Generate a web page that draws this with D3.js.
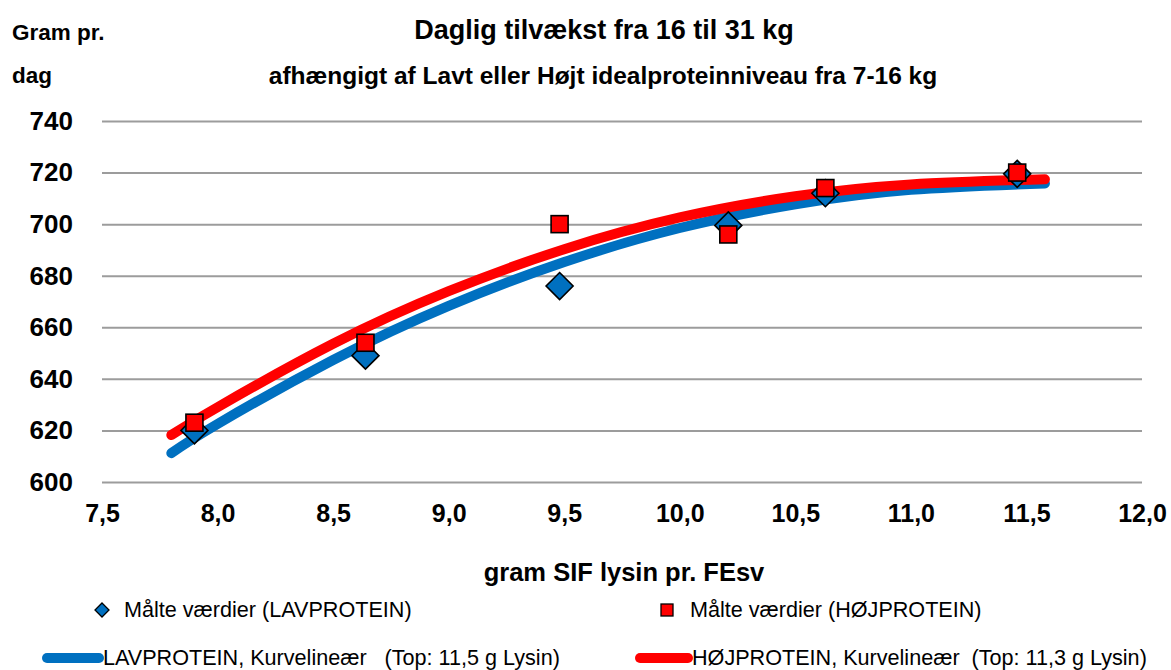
<!DOCTYPE html>
<html>
<head>
<meta charset="utf-8">
<script src="https://cdn.jsdelivr.net/npm/d3@7/dist/d3.min.js"></script>
<style>
  html, body { margin: 0; padding: 0; background: #fff; }
  svg { display: block; font-family: "Liberation Sans", Arial, sans-serif; }
  text { white-space: pre; }
</style>
</head>
<body>
<svg id="chart" width="1171" height="670"></svg>
<script>
// ---- Data ----
const lysinPoints = [7.9, 8.64, 9.48, 10.21, 10.63, 11.46];
const gainLav = [620, 649, 676, 699.5, 712, 719.5];
const gainHoj = [623, 654, 700, 696, 714, 720];

const curveX = [7.8, 8.0, 8.5, 9.0, 9.5, 10.0, 10.5, 11.0, 11.58];
const curveLav = [611.2, 622.5, 647.3, 668.3, 685.3, 698.5, 707.7, 713.3, 715.8];
const curveHoj = [618.2, 629.0, 653.6, 674.0, 690.3, 702.6, 710.8, 715.4, 717.4];

const xTicks = [7.5, 8.0, 8.5, 9.0, 9.5, 10.0, 10.5, 11.0, 11.5, 12.0];
const yTicks = [600, 620, 640, 660, 680, 700, 720, 740];

const titleText = "Daglig tilvækst fra 16 til 31 kg";
const subtitleText = "afhængigt af Lavt eller Højt idealproteinniveau fra 7-16 kg";
const yTitle1 = "Gram pr.";
const yTitle2 = "dag";
const xTitle = "gram SIF lysin pr. FEsv";
const legendLabels = [
  "Målte værdier (LAVPROTEIN)",
  "Målte værdier (HØJPROTEIN)",
  "LAVPROTEIN, Kurvelineær   (Top: 11,5 g Lysin)",
  "HØJPROTEIN, Kurvelineær  (Top: 11,3 g Lysin)"
];

const BLUE = "#0070C0", RED = "#FF0000";

// ---- Scales ----
const svg = d3.select("#chart");
const x = d3.scaleLinear().domain([7.5, 12.0]).range([102, 1142]);
const y = d3.scaleLinear().domain([600, 740]).range([482, 121]);
const fmt = v => d3.format(".1f")(v).replace(".", ",");

// Gridlines + y axis
const yAxis = d3.axisLeft(y).tickValues(yTicks).tickSize(-(x.range()[1] - x.range()[0])).tickPadding(29);
const gy = svg.append("g").attr("transform", `translate(${x.range()[0]},0)`).call(yAxis);
gy.select(".domain").remove();
gy.selectAll(".tick line").attr("stroke", "#9c9c9c").attr("stroke-width", 2);
gy.selectAll(".tick text").attr("font-size", 26).attr("font-weight", "bold")
  .attr("fill", "#000").attr("font-family", "Liberation Sans, Arial, sans-serif");

// x axis labels
const xAxis = d3.axisBottom(x).tickValues(xTicks).tickFormat(fmt).tickSize(0).tickPadding(22);
const gx = svg.append("g").attr("transform", `translate(0,${y.range()[0]})`).call(xAxis);
gx.select(".domain").remove();
gx.selectAll(".tick text").attr("font-size", 25).attr("font-weight", "bold")
  .attr("fill", "#000").attr("font-family", "Liberation Sans, Arial, sans-serif");

// Curves
const line = d3.line().x(d => x(d[0])).y(d => y(d[1])).curve(d3.curveNatural);
svg.append("path").datum(curveX.map((v, i) => [v, curveLav[i]]))
  .attr("d", line).attr("fill", "none").attr("stroke", BLUE).attr("stroke-width", 10).attr("stroke-linecap", "round");
svg.append("path").datum(curveX.map((v, i) => [v, curveHoj[i]]))
  .attr("d", line).attr("fill", "none").attr("stroke", RED).attr("stroke-width", 10).attr("stroke-linecap", "round");

// Markers
const diamond = (cx, cy, r) => `M${cx},${cy - r}L${cx + r},${cy}L${cx},${cy + r}L${cx - r},${cy}Z`;
svg.append("g").selectAll("path").data(lysinPoints.map((v, i) => [v, gainLav[i]])).join("path")
  .attr("d", d => diamond(x(d[0]), y(d[1]), 13.5))
  .attr("fill", BLUE).attr("stroke", "#000").attr("stroke-width", 1.6);
svg.append("g").selectAll("rect").data(lysinPoints.map((v, i) => [v, gainHoj[i]])).join("rect")
  .attr("x", d => x(d[0]) - 8.5).attr("y", d => y(d[1]) - 8.5)
  .attr("width", 17).attr("height", 17)
  .attr("fill", RED).attr("stroke", "#000").attr("stroke-width", 1.6);

// Titles
svg.append("text").attr("x", 604).attr("y", 39).attr("text-anchor", "middle")
  .attr("font-size", 27).attr("font-weight", "bold").text(titleText);
svg.append("text").attr("x", 603).attr("y", 84).attr("text-anchor", "middle")
  .attr("font-size", 24.5).attr("font-weight", "bold").text(subtitleText);
svg.append("text").attr("x", 12).attr("y", 40).attr("font-size", 22.5).attr("font-weight", "bold").text(yTitle1);
svg.append("text").attr("x", 12).attr("y", 83).attr("font-size", 22.5).attr("font-weight", "bold").text(yTitle2);
svg.append("text").attr("x", 624).attr("y", 581).attr("text-anchor", "middle")
  .attr("font-size", 25.5).attr("font-weight", "bold").text(xTitle);

// Legend
const lg = svg.append("g").attr("font-size", 21.6);
lg.append("path").attr("d", diamond(102, 610, 7)).attr("fill", BLUE).attr("stroke", "#000").attr("stroke-width", 1.3);
lg.append("text").attr("x", 124).attr("y", 617).text(legendLabels[0]);
lg.append("rect").attr("x", 661).attr("y", 604).attr("width", 12).attr("height", 12)
  .attr("fill", RED).attr("stroke", "#000").attr("stroke-width", 1.3);
lg.append("text").attr("x", 690).attr("y", 617).text(legendLabels[1]);
lg.append("line").attr("x1", 47).attr("x2", 99).attr("y1", 658).attr("y2", 658)
  .attr("stroke", BLUE).attr("stroke-width", 10).attr("stroke-linecap", "round");
lg.append("text").attr("x", 103).attr("y", 665).text(legendLabels[2]);
lg.append("line").attr("x1", 640).attr("x2", 688).attr("y1", 658).attr("y2", 658)
  .attr("stroke", RED).attr("stroke-width", 10).attr("stroke-linecap", "round");
lg.append("text").attr("x", 692).attr("y", 665).text(legendLabels[3]);
</script>
</body>
</html>
